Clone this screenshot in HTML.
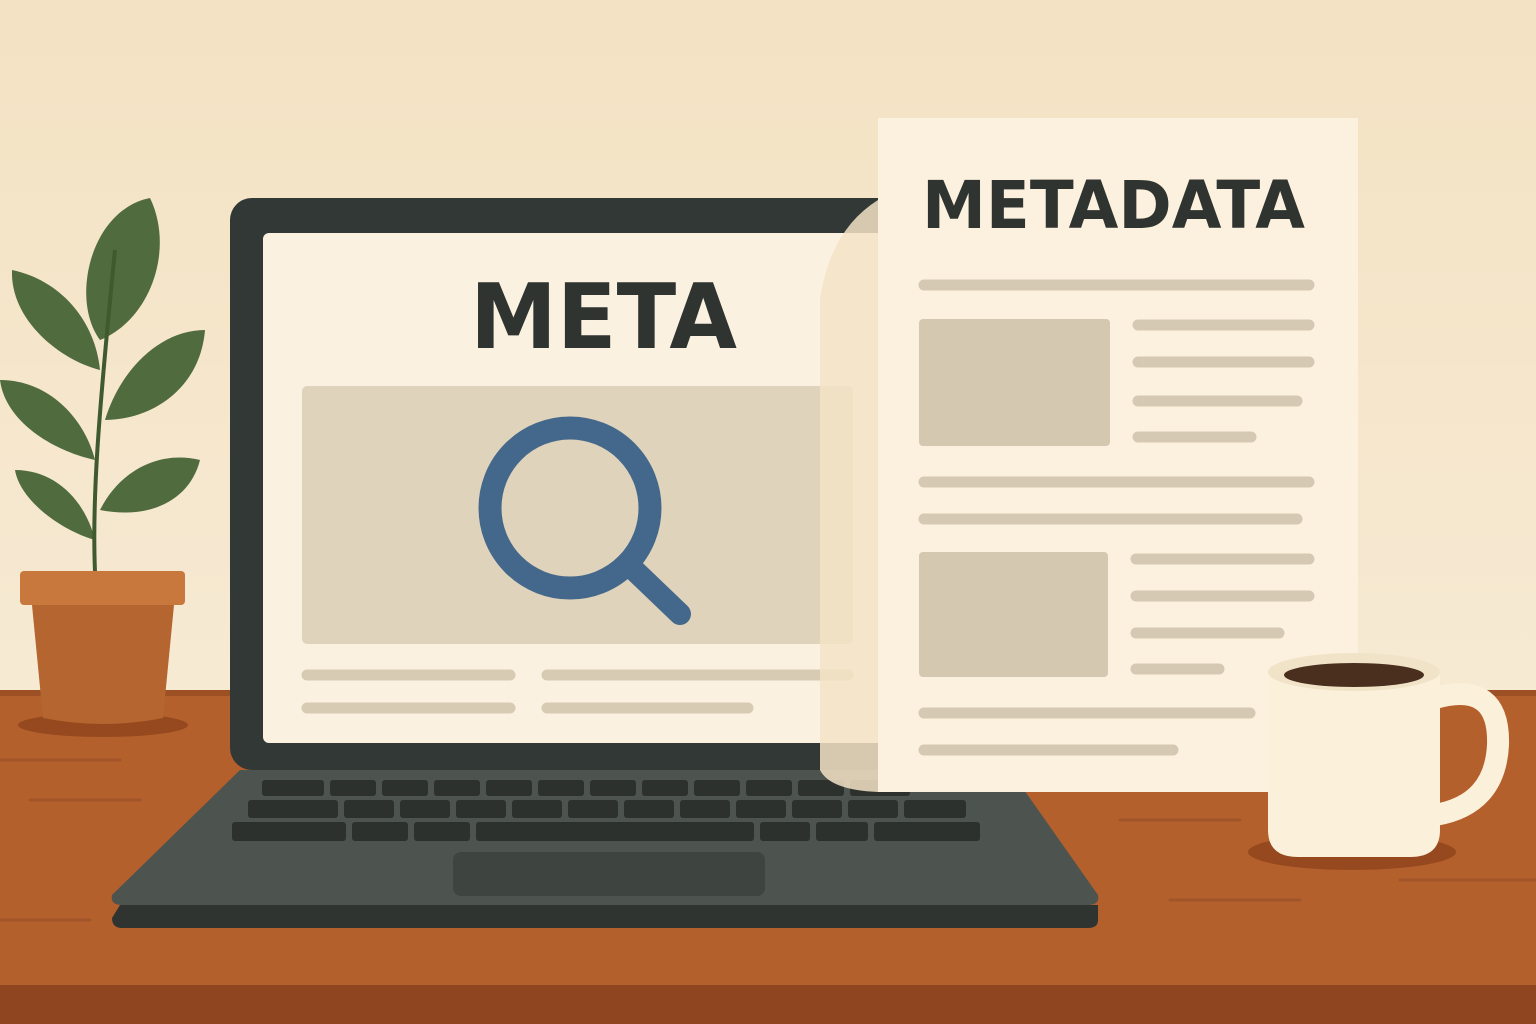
<!DOCTYPE html>
<html><head><meta charset="utf-8"><style>
html,body{margin:0;padding:0;width:1536px;height:1024px;overflow:hidden}
svg{display:block}
text{font-family:"DejaVu Sans","Liberation Sans",sans-serif;font-weight:bold;fill:#2f3431}
</style></head><body>
<svg width="1536" height="1024" viewBox="0 0 1536 1024" xmlns="http://www.w3.org/2000/svg">
<defs>
<linearGradient id="wall" x1="0" y1="0" x2="0" y2="1">
<stop offset="0" stop-color="#f3e2c3"/><stop offset="1" stop-color="#f7ead3"/>
</linearGradient>
</defs>
<rect width="1536" height="700" fill="url(#wall)"/>
<rect y="690" width="1536" height="334" fill="#b4602c"/>
<rect y="690" width="1536" height="6" fill="#9c5023"/>
<rect y="985" width="1536" height="39" fill="#8e4520"/>
<g stroke="#a2542a" stroke-width="3" stroke-linecap="round">
<line x1="0" y1="760" x2="120" y2="760"/><line x1="30" y1="800" x2="140" y2="800"/>
<line x1="1400" y1="880" x2="1536" y2="880"/><line x1="1170" y1="900" x2="1300" y2="900"/>
<line x1="0" y1="920" x2="90" y2="920"/><line x1="1120" y1="820" x2="1240" y2="820"/>
</g>

<!-- plant -->
<ellipse cx="103" cy="725" rx="85" ry="12" fill="#96491f"/>
<g fill="#506b3d">
<path d="M100 340 C70 300 90 210 150 198 C175 250 150 320 100 340Z"/>
<path d="M100 370 C60 360 10 320 12 270 C60 280 95 320 100 370Z"/>
<path d="M105 420 C120 370 160 330 205 330 C200 390 150 420 105 420Z"/>
<path d="M95 460 C50 450 5 420 0 380 C50 380 85 420 95 460Z"/>
<path d="M100 510 C120 470 160 450 200 460 C190 500 150 520 100 510Z"/>
<path d="M95 540 C60 530 20 500 15 470 C55 470 85 500 95 540Z"/>
</g>
<path d="M95 572 C92 500 98 420 115 250" stroke="#3f5a2f" stroke-width="4" fill="none"/>
<path d="M32 605 H174 L163 718 Q103 730 43 718Z" fill="#b5652f"/>
<rect x="20" y="571" width="165" height="34" rx="4" fill="#c8783d"/>

<!-- laptop base -->
<path d="M120 905 H1098 V920 Q1098 928 1088 928 H122 Q112 928 112 918Z" fill="#2f3430"/>
<path d="M240 770 H1010 L1098 895 Q1100 905 1088 905 H122 Q110 905 112 895Z" fill="#4d534e"/>
<g fill="#2c312e">
<rect x="262" y="780" width="62" height="16" rx="3"/>
<rect x="330" y="780" width="46" height="16" rx="3"/><rect x="382" y="780" width="46" height="16" rx="3"/>
<rect x="434" y="780" width="46" height="16" rx="3"/><rect x="486" y="780" width="46" height="16" rx="3"/>
<rect x="538" y="780" width="46" height="16" rx="3"/><rect x="590" y="780" width="46" height="16" rx="3"/>
<rect x="642" y="780" width="46" height="16" rx="3"/><rect x="694" y="780" width="46" height="16" rx="3"/>
<rect x="746" y="780" width="46" height="16" rx="3"/><rect x="798" y="780" width="46" height="16" rx="3"/>
<rect x="850" y="780" width="60" height="16" rx="3"/>
<rect x="248" y="800" width="90" height="18" rx="3"/>
<rect x="344" y="800" width="50" height="18" rx="3"/><rect x="400" y="800" width="50" height="18" rx="3"/>
<rect x="456" y="800" width="50" height="18" rx="3"/><rect x="512" y="800" width="50" height="18" rx="3"/>
<rect x="568" y="800" width="50" height="18" rx="3"/><rect x="624" y="800" width="50" height="18" rx="3"/>
<rect x="680" y="800" width="50" height="18" rx="3"/><rect x="736" y="800" width="50" height="18" rx="3"/>
<rect x="792" y="800" width="50" height="18" rx="3"/><rect x="848" y="800" width="50" height="18" rx="3"/>
<rect x="904" y="800" width="62" height="18" rx="3"/>
<rect x="232" y="822" width="114" height="19" rx="3"/>
<rect x="352" y="822" width="56" height="19" rx="3"/><rect x="414" y="822" width="56" height="19" rx="3"/>
<rect x="476" y="822" width="278" height="19" rx="3"/>
<rect x="760" y="822" width="50" height="19" rx="3"/><rect x="816" y="822" width="52" height="19" rx="3"/>
<rect x="874" y="822" width="106" height="19" rx="3"/>
</g>
<rect x="453" y="852" width="312" height="44" rx="8" fill="#3e4440"/>

<!-- laptop screen -->
<rect x="230" y="198" width="670" height="572" rx="22" fill="#323835"/>
<rect x="263" y="233" width="630" height="510" rx="6" fill="#fbf1e0"/>
<text x="470" y="348" font-size="90" textLength="267" lengthAdjust="spacingAndGlyphs">META</text>
<rect x="302" y="386" width="551" height="258" rx="5" fill="#e0d3bb"/>
<circle cx="570" cy="508" r="80" fill="none" stroke="#44688b" stroke-width="23"/>
<line x1="632" y1="568" x2="680" y2="614" stroke="#44688b" stroke-width="22" stroke-linecap="round"/>
<g stroke="#d8cbb4" stroke-width="11" stroke-linecap="round">
<line x1="307" y1="675" x2="510" y2="675"/><line x1="547" y1="675" x2="848" y2="675"/>
<line x1="307" y1="708" x2="510" y2="708"/><line x1="547" y1="708" x2="748" y2="708"/>
</g>

<!-- paper shadow -->
<path d="M878 200 Q830 230 820 300 V770 Q830 790 878 792Z" fill="#f3e3c6" opacity="0.85"/>
<!-- paper -->
<rect x="878" y="118" width="480" height="674" fill="#fcf1de"/>
<text x="922" y="228" font-size="66" textLength="383" lengthAdjust="spacingAndGlyphs">METADATA</text>
<g fill="#d5c8b1">
<rect x="919" y="319" width="191" height="127" rx="4"/>
<rect x="919" y="552" width="189" height="125" rx="4"/>
</g>
<g stroke="#d6c9b3" stroke-width="11" stroke-linecap="round">
<line x1="924" y1="285" x2="1309" y2="285"/>
<line x1="1138" y1="325" x2="1309" y2="325"/><line x1="1138" y1="362" x2="1309" y2="362"/>
<line x1="1138" y1="401" x2="1297" y2="401"/><line x1="1138" y1="437" x2="1251" y2="437"/>
<line x1="924" y1="482" x2="1309" y2="482"/><line x1="924" y1="519" x2="1297" y2="519"/>
<line x1="1136" y1="559" x2="1309" y2="559"/><line x1="1136" y1="596" x2="1309" y2="596"/>
<line x1="1136" y1="633" x2="1279" y2="633"/><line x1="1136" y1="669" x2="1219" y2="669"/>
<line x1="924" y1="713" x2="1250" y2="713"/><line x1="924" y1="750" x2="1173" y2="750"/>
</g>

<!-- mug -->
<ellipse cx="1352" cy="852" rx="104" ry="18" fill="#96491f"/>
<path d="M1435 698 Q1500 680 1498 745 Q1495 805 1435 815" fill="none" stroke="#fbf0da" stroke-width="22"/>
<path d="M1268 672 H1440 V830 Q1440 857 1410 857 H1298 Q1268 857 1268 830Z" fill="#fbf0da"/>
<ellipse cx="1354" cy="672" rx="86" ry="19" fill="#f1e3c8"/>
<ellipse cx="1354" cy="675" rx="70" ry="12" fill="#4a2f1f"/>
</svg>
</body></html>
